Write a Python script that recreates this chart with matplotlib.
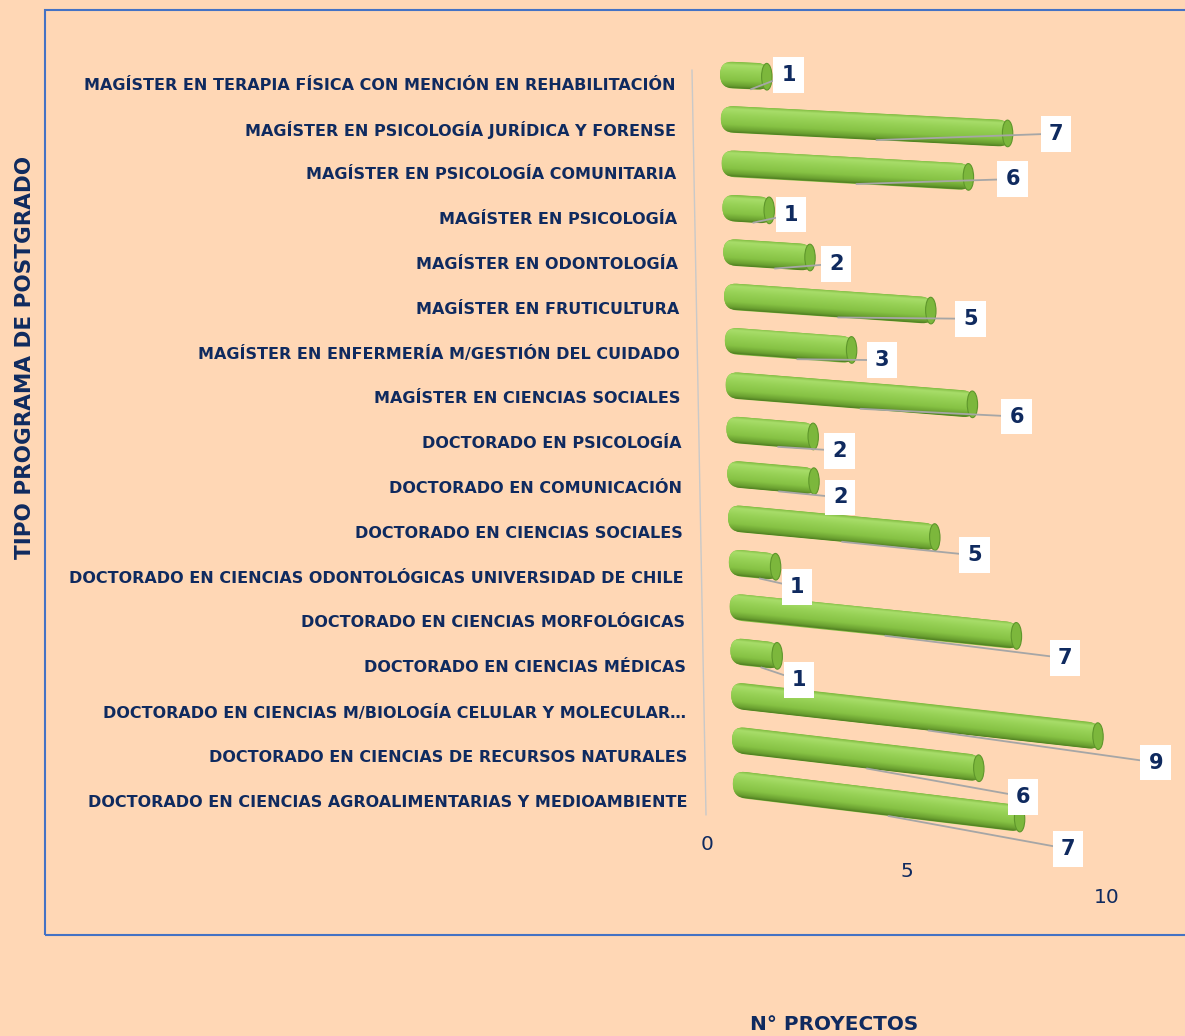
import numpy as np
import matplotlib
matplotlib.use("Agg")
import matplotlib.pyplot as plt
from matplotlib.patches import FancyBboxPatch, Ellipse, Rectangle
from matplotlib.transforms import Affine2D, ScaledTranslation
from matplotlib.colors import LinearSegmentedColormap

# data (top to bottom as shown)
programas = [
    "MAGÍSTER EN TERAPIA FÍSICA CON MENCIÓN EN REHABILITACIÓN",
    "MAGÍSTER EN PSICOLOGÍA JURÍDICA Y FORENSE",
    "MAGÍSTER EN PSICOLOGÍA COMUNITARIA",
    "MAGÍSTER EN PSICOLOGÍA",
    "MAGÍSTER EN ODONTOLOGÍA",
    "MAGÍSTER EN FRUTICULTURA",
    "MAGÍSTER EN ENFERMERÍA M/GESTIÓN DEL CUIDADO",
    "MAGÍSTER EN CIENCIAS SOCIALES",
    "DOCTORADO EN PSICOLOGÍA",
    "DOCTORADO EN COMUNICACIÓN",
    "DOCTORADO EN CIENCIAS SOCIALES",
    "DOCTORADO EN CIENCIAS ODONTOLÓGICAS UNIVERSIDAD DE CHILE",
    "DOCTORADO EN CIENCIAS MORFOLÓGICAS",
    "DOCTORADO EN CIENCIAS MÉDICAS",
    "DOCTORADO EN CIENCIAS M/BIOLOGÍA CELULAR Y MOLECULAR…",
    "DOCTORADO EN CIENCIAS DE RECURSOS NATURALES",
    "DOCTORADO EN CIENCIAS AGROALIMENTARIAS Y MEDIOAMBIENTE",
]
proyectos = [1, 7, 6, 1, 2, 5, 3, 6, 2, 2, 5, 1, 7, 1, 9, 6, 7]
xticks = [0, 5, 10]

BG = "#FFD7B5"
NAVY = "#0F2A5F"
FONT = "DejaVu Sans"

fig = plt.figure(figsize=(11.85, 10.36), dpi=100, facecolor=BG)
ax = fig.add_axes([714 / 1185, 0.178, 476 / 1185, 0.771])
ax.set_facecolor("none")
ax.set_xlim(-0.4, 11.5)
ax.set_ylim(len(proyectos) + 0.5, -0.5)
for s in ax.spines.values():
    s.set_visible(False)
ax.set_xticks([])
ax.set_yticks([])

cyl = LinearSegmentedColormap.from_list("cyl", [
    (0.0, "#80BB40"), (0.12, "#A8DD6A"), (0.35, "#98D257"),
    (0.7, "#86C244"), (0.9, "#6AA030"), (1.0, "#4F7E22")])
grad = np.linspace(0, 1, 120).reshape(-1, 1)

def px(x, y):
    return ScaledTranslation(x / 100, -y / 100, fig.dpi_scale_trans)

h = 0.6
for i, v in enumerate(proyectos):
    k = (0.046 + 0.0047 * i) * 40 / 44.4
    tr = Affine2D().skew(0, np.arctan(k)) + ax.transData + px(0.8 * i, 0)

    body = FancyBboxPatch((-0.25, i - h / 2), v + 0.25, h,
                          boxstyle="round,pad=0,rounding_size=0.32",
                          mutation_aspect=(h / 2) / 0.32,
                          facecolor="#80BB40", edgecolor="none",
                          transform=tr, zorder=2)
    ax.add_patch(body)
    im = ax.imshow(grad, cmap=cyl, extent=[-0.25, v, i + h / 2, i - h / 2],
                   aspect="auto", interpolation="bilinear",
                   transform=tr, zorder=3)
    im.set_clip_path(body)
    cap = Ellipse((v - 0.08, i), 0.26, h, facecolor="#7CB73C",
                  edgecolor="#5E962B", lw=0.8, transform=tr, zorder=4)
    ax.add_patch(cap)

    # data label with leader line
    ax.annotate(str(v), xy=(0.52 * v, i + h / 2), xycoords=tr,
                xytext=(v, i),
                textcoords=tr + px(14 + 4.5 * v, -2 + 2.0 * i),
                ha="center", va="center", fontsize=15, fontweight="bold",
                color=NAVY, family=FONT, zorder=6,
                bbox=dict(boxstyle="square,pad=0.38", fc="white", ec="none"),
                arrowprops=dict(arrowstyle="-", color="#A6A6A6", lw=1.3,
                                shrinkA=0, shrinkB=0))

    # category label
    ax.text(0, i, programas[i],
            transform=ax.transData + px(-(55 - 0.8 * i), 10 + 0.45 * i),
            ha="right", va="center", fontsize=11.5, fontweight="bold",
            color=NAVY, family=FONT)

# x tick labels on the slanted floor
for t in xticks:
    ax.text(t, 0, str(t),
            transform=ax.get_xaxis_transform() + px(-23, -6.6 + 5.3 * t),
            ha="center", va="center", fontsize=14.5, color=NAVY, family=FONT,
            clip_on=False)

# faint wall edge
ax.plot([-0.95, -0.6], [-0.11, 16.67], color="#C9C9C9", lw=1, clip_on=False)

# outer border
fig.add_artist(Rectangle((45 / 1185, 1 - 935 / 1036), 1.0, 925 / 1036,
                         transform=fig.transFigure, fill=False,
                         edgecolor="#4472C4", lw=1.5))

fig.text(25 / 1185, 1 - 357 / 1036, "TIPO PROGRAMA DE POSTGRADO", rotation=90,
         ha="center", va="center", fontsize=15.5, fontweight="bold",
         color=NAVY, family=FONT)
fig.text(834 / 1185, 1 - 1025 / 1036, "N° PROYECTOS", ha="center", va="center",
         fontsize=14.4, fontweight="bold", color=NAVY, family=FONT)

fig.savefig("out.png", dpi=100, facecolor=BG)
